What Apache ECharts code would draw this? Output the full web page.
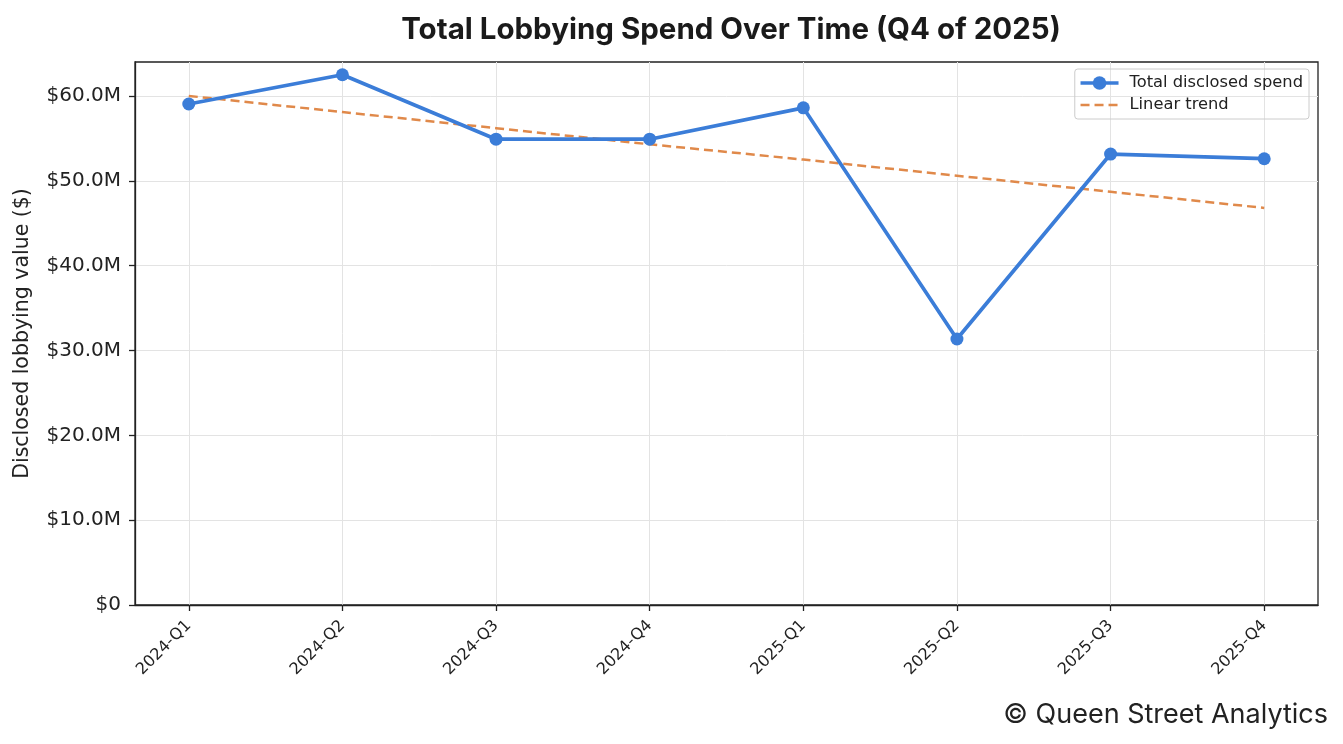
<!DOCTYPE html>
<html>
<head>
<meta charset="utf-8">
<script src="https://cdn.jsdelivr.net/npm/echarts@6/dist/echarts.min.js"></script>
<style>
  html, body { margin: 0; padding: 0; background: #fff; }
  #chart { width: 1343px; height: 744px; }
</style>
</head>
<body>
<div id="chart"></div>
<script>
const quarters = ['2024-Q1', '2024-Q2', '2024-Q3', '2024-Q4', '2025-Q1', '2025-Q2', '2025-Q3', '2025-Q4'];
const totalSpend = [59.05, 62.5, 54.9, 54.9, 58.6, 31.35, 53.15, 52.6];   // $M
const trendSpend = [60.0, 58.1, 56.2, 54.3, 52.5, 50.6, 48.7, 46.8];      // $M
const yTicks = [0, 10, 20, 30, 40, 50, 60];

const idx = quarters.map((_, i) => i);
const pairs = vals => vals.map((v, i) => [i, v]);
const INTER = 'Inter, sans-serif';
const DEJAVU = '"DejaVu Sans", sans-serif';

const chart = echarts.init(document.getElementById('chart'));

chart.setOption({
    animation: false,
    backgroundColor: '#fff',
    title: {
        text: 'Total Lobbying Spend Over Time (Q4 of 2025)',
        left: 726,
        textAlign: 'center',
        top: 10,
        textStyle: { fontFamily: INTER, fontSize: 29.5, fontWeight: 'bold', color: '#1a1a1a' },
    },
    graphic: [{
        type: 'text',
        right: 15,
        top: 701,
        style: { text: '© Queen Street Analytics', font: '27px Inter, sans-serif', fill: '#222' },
    }],
    legend: {
        right: 34,
        top: 69,
        orient: 'vertical',
        itemGap: 6,
        itemWidth: 38,
        itemHeight: 17,
        padding: [6, 6, 6, 4],
        borderColor: '#cccccc',
        borderWidth: 1,
        borderRadius: 3,
        textStyle: { fontFamily: DEJAVU, fontSize: 16.3, color: '#222', padding: [0, 0, 0, 6] },
        data: [
            { name: 'Total disclosed spend', lineStyle: { width: 3.5 } },
            { name: 'Linear trend', itemStyle: { opacity: 0 }, lineStyle: { width: 2.5 } },
        ],
    },
    grid: {
        left: 135, right: 25, top: 62, bottom: 139,
        show: true, borderColor: '#222', borderWidth: 1.3,
    },
    xAxis: {
        type: 'value',
        min: -0.35,
        max: 7.35,
        axisLine: { show: true, onZero: false, lineStyle: { color: '#222', width: 1.3 } },
        axisTick: { show: true, customValues: idx, length: 6, lineStyle: { color: '#222', width: 1.3 } },
        axisLabel: {
            customValues: idx,
            rotate: 45,
            margin: 18,
            fontFamily: DEJAVU,
            fontSize: 16,
            color: '#222',
            formatter: v => quarters[Math.round(v)],
        },
        splitLine: { show: true, lineStyle: { color: '#e3e3e3', width: 1 } },
    },
    yAxis: {
        type: 'value',
        min: 0,
        max: 64,
        interval: 10,
        name: 'Disclosed lobbying value ($)',
        nameLocation: 'middle',
        nameGap: 102,
        nameTextStyle: { fontFamily: DEJAVU, fontSize: 20.5, color: '#222' },
        axisLine: { show: true, onZero: false, lineStyle: { color: '#222', width: 1.3 } },
        axisTick: { show: true, customValues: yTicks, length: 6, lineStyle: { color: '#222', width: 1.3 } },
        axisLabel: {
            customValues: yTicks,
            margin: 14,
            fontFamily: DEJAVU,
            fontSize: 20,
            color: '#222',
            formatter: v => (v === 0 ? '$0' : '$' + v.toFixed(1) + 'M'),
        },
        splitLine: { show: true, lineStyle: { color: '#e3e3e3', width: 1 } },
    },
    series: [
        {
            name: 'Total disclosed spend',
            type: 'line',
            data: pairs(totalSpend),
            symbol: 'circle',
            symbolSize: 13,
            itemStyle: { color: '#3b7dd8' },
            lineStyle: { color: '#3b7dd8', width: 3.7 },
            z: 3,
        },
        {
            name: 'Linear trend',
            type: 'line',
            data: pairs(trendSpend),
            symbol: 'none',
            itemStyle: { color: '#e0894a' },
            lineStyle: { color: '#e0894a', width: 2.5, type: [9, 5] },
            z: 2,
        },
    ],
});
</script>
</body>
</html>
